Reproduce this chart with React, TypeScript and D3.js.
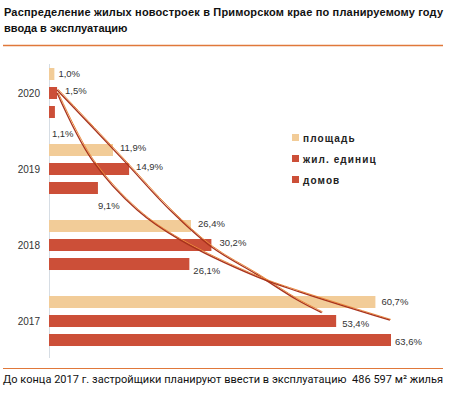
import React from 'react';
import * as d3 from 'd3';

const years = ['2020', '2019', '2018', '2017'];
const seriesNames = ['площадь', 'жил. единиц', 'домов'];
const seriesColors = ['#f2cc98', '#cc4f38', '#cc4f38'];
const area = [1.0, 11.9, 26.4, 60.7];
const units = [1.5, 14.9, 30.2, 53.4];
const houses = [1.1, 9.1, 26.1, 63.6];
const seriesValues = [area, units, houses];

// trend curves: [percent, position in year steps from 2020]
const trendA = [[1.5, -0.04], [13.8, 0.88], [22.5, 1.54], [30.3, 2.03], [38.7, 2.39], [46.1, 2.72], [50.7, 2.89]];
const trendB = [[1.5, 0], [8.0, 0.88], [16.4, 1.54], [24.3, 1.93], [38.7, 2.42], [46.7, 2.62], [63.4, 2.99]];

const title1 = 'Распределение жилых новостроек в Приморском крае по планируемому году';
const title2 = 'ввода в эксплуатацию';
const footer = 'До конца 2017 г. застройщики планируют ввести в эксплуатацию\u00a0 486 597 м² жилья';

const W = 460, H = 396;

// hand-placed label nudges [dx, dy] per series, per year
const labelNudge = [
  [[4, 0], [7, -2], [7, -2], [6, 0]],
  [[8, -3], [7, -3], [8, -3], [6, 2]],
  [[-3, 21], [0, 17], [4, 6], [4, 1]],
];

const fmt = (v: number) => d3.format('.1f')(v).replace('.', ',') + '%';

export default function App() {
  const x = d3.scaleLinear().domain([0, 63.6]).range([49, 391]);
  const y = d3.scaleBand().domain(years).range([55, 359]);
  const inner = d3.scaleBand()
    .domain(seriesNames)
    .range([0, y.bandwidth()])
    .paddingInner(7 / 19)
    .paddingOuter(0.684);
  const yc = d3.scaleLinear().domain([0, 3]).range([
    (y(years[0]) as number) + y.bandwidth() / 2,
    (y(years[3]) as number) + y.bandwidth() / 2,
  ]);
  const line = d3.line<number[]>()
    .x(d => x(d[0]))
    .y(d => yc(d[1]))
    .curve(d3.curveCatmullRom.alpha(0.5));

  return (
    <svg width={W} height={H} style={{ position: 'absolute', left: 0, top: 0, background: '#fff' }}>
      <g fontFamily="'Liberation Sans', Arial, sans-serif" fontWeight="bold" fontSize={11} fill="#111">
        <text x={4} y={16} textLength={439} lengthAdjust="spacing">{title1}</text>
        <text x={4} y={31.5}>{title2}</text>
      </g>
      <line x1={3} x2={443} y1={45.5} y2={45.5} stroke="#e0783a" strokeWidth={1.5} />

      <line x1={49.5} x2={49.5} y1={64} y2={358} stroke="#d6dde4" strokeWidth={1} />

      {years.map((yr, yi) => (
        <g key={yr}>
          <text x={40} y={(y(yr) as number) + y.bandwidth() / 2 + 3.5} textAnchor="end"
            fontFamily="'Liberation Sans', Arial, sans-serif" fontSize={10} fill="#333">{yr}</text>
          {seriesNames.map((s, si) => {
            const v = seriesValues[si][yi];
            const by = (y(yr) as number) + (inner(s) as number);
            const [dx, dy] = labelNudge[si][yi];
            return (
              <g key={s}>
                <rect x={x(0)} y={by} width={x(v) - x(0)} height={inner.bandwidth()} fill={seriesColors[si]} />
                <text x={x(v) + dx} y={by + inner.bandwidth() / 2 + 3.5 + dy}
                  fontFamily="'Liberation Sans', Arial, sans-serif" fontSize={9.5} fill="#333">{fmt(v)}</text>
              </g>
            );
          })}
        </g>
      ))}

      {[trendA, trendB].map((t, i) => (
        <g key={i} fill="none">
          <path d={line(t) || ''} stroke="#ec8a3c" strokeWidth={1} transform="translate(1,-0.8)" />
          <path d={line(t) || ''} stroke="#a8321c" strokeWidth={1.3} />
        </g>
      ))}

      {seriesNames.map((s, i) => (
        <g key={s} transform={`translate(292,${134 + i * 21})`}>
          <rect x={0} y={0} width={7} height={7} fill={seriesColors[i]} />
          <text x={11} y={7.5} fontFamily="'Liberation Sans', Arial, sans-serif" fontWeight="bold"
            fontSize={10} letterSpacing={1.1} fill="#222">{s}</text>
        </g>
      ))}

      <line x1={3} x2={443} y1={368.5} y2={368.5} stroke="#e0783a" strokeWidth={1.2} />
      <text x={3} y={383} textLength={440} lengthAdjust="spacing"
        fontFamily="Roboto, 'Liberation Sans', sans-serif" fontSize={11} fill="#111">{footer}</text>
    </svg>
  );
}
